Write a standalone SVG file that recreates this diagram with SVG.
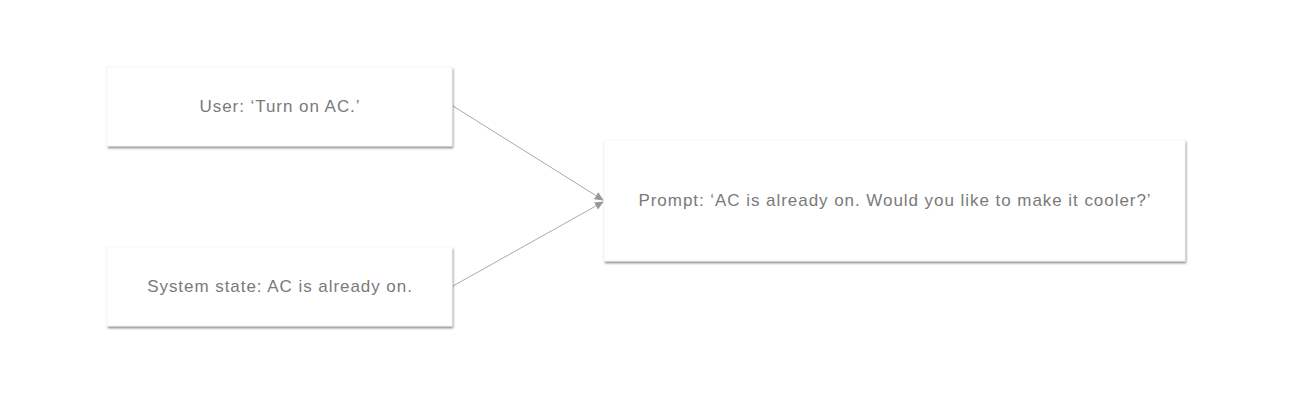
<svg xmlns="http://www.w3.org/2000/svg" width="1300" height="400" viewBox="0 0 1300 400">
<defs>
<filter id="sh" x="-5%" y="-10%" width="110%" height="125%">
<feGaussianBlur in="SourceAlpha" stdDeviation="1.2"/>
<feOffset dx="0.5" dy="1.5" result="b"/>
<feComponentTransfer><feFuncA type="linear" slope="0.45"/></feComponentTransfer>
<feMerge><feMergeNode/><feMergeNode in="SourceGraphic"/></feMerge>
</filter>
<marker id="ah" viewBox="0 0 10 10" refX="9" refY="5" markerWidth="9" markerHeight="9" markerUnits="userSpaceOnUse" orient="auto">
<path d="M0,0.5 L10,5 L0,9.5 z" fill="#999"/>
</marker>
<style>
.box{fill:#fff;stroke:#eee;stroke-width:0.5;filter:url(#sh)}
.lbl{font-family:"Liberation Sans",Arial,sans-serif;font-size:17px;letter-spacing:0.95px;fill:#7a7a7a;text-anchor:middle;dominant-baseline:central}
.edge{stroke:#aaa;stroke-width:1;fill:none;marker-end:url(#ah)}
</style>
</defs>
<rect width="1300" height="400" fill="#fff"/>
<g id="connectors">
<line class="edge" x1="453" y1="106" x2="603" y2="200"/>
<line class="edge" x1="453" y1="286" x2="603" y2="202"/>
</g>
<g id="node-user">
<rect class="box" x="107" y="67" width="345" height="79"/>
<text class="lbl" x="280" y="106">User: ‘Turn on AC.’</text>
</g>
<g id="node-state">
<rect class="box" x="107" y="247" width="345" height="79"/>
<text class="lbl" x="280" y="286">System state: AC is already on.</text>
</g>
<g id="node-prompt">
<rect class="box" x="604" y="140" width="581" height="121"/>
<text class="lbl" x="895" y="200">Prompt: ‘AC is already on. Would you like to make it cooler?’</text>
</g>
</svg>
